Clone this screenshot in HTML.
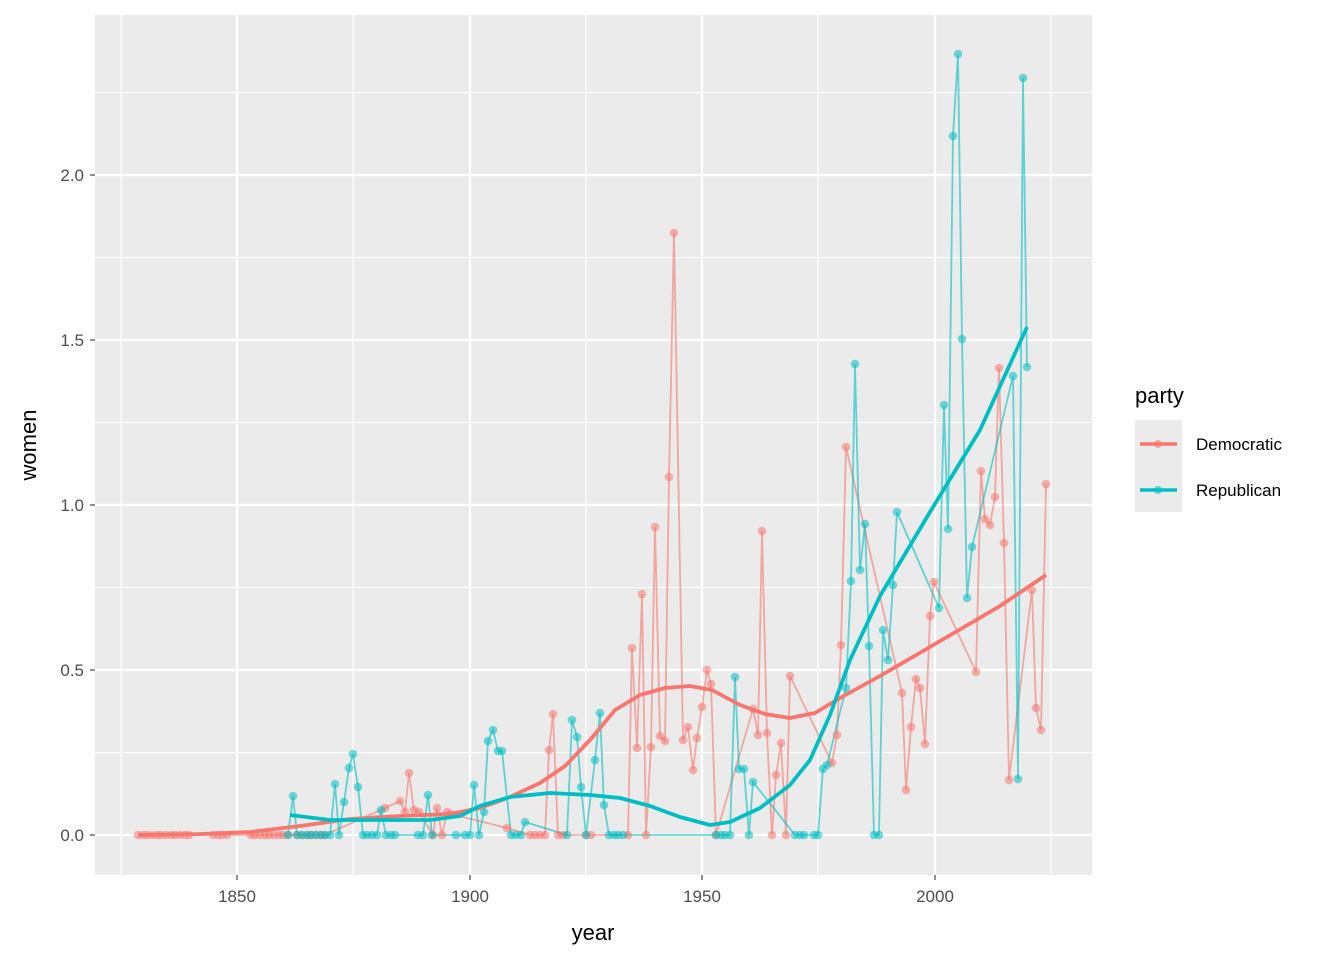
<!DOCTYPE html>
<html><head><meta charset="utf-8"><style>
html,body{margin:0;padding:0;background:#fff;}
svg text{font-family:"Liberation Sans",Arial,sans-serif;}
</style></head><body>
<svg id="s" width="1344" height="960" xmlns="http://www.w3.org/2000/svg">
<rect x="95" y="15" width="997" height="860" fill="#ebebeb"/>
<g stroke="#fff" stroke-width="1.1">
<line x1="121" y1="15" x2="121" y2="875"/><line x1="353" y1="15" x2="353" y2="875"/><line x1="586" y1="15" x2="586" y2="875"/><line x1="818" y1="15" x2="818" y2="875"/><line x1="1051" y1="15" x2="1051" y2="875"/>
<line x1="95" y1="752.5" x2="1092" y2="752.5"/><line x1="95" y1="587.5" x2="1092" y2="587.5"/><line x1="95" y1="422.5" x2="1092" y2="422.5"/><line x1="95" y1="257.5" x2="1092" y2="257.5"/><line x1="95" y1="92.5" x2="1092" y2="92.5"/>
</g>
<g stroke="#fff" stroke-width="2.2">
<line x1="237" y1="15" x2="237" y2="875"/><line x1="470" y1="15" x2="470" y2="875"/><line x1="702" y1="15" x2="702" y2="875"/><line x1="935" y1="15" x2="935" y2="875"/>
<line x1="95" y1="835" x2="1092" y2="835"/><line x1="95" y1="670" x2="1092" y2="670"/><line x1="95" y1="505" x2="1092" y2="505"/><line x1="95" y1="340" x2="1092" y2="340"/><line x1="95" y1="175" x2="1092" y2="175"/>
</g>
<g id="data"></g>
<g font-size="17" fill="#4d4d4d" text-anchor="end">
<text x="84" y="841">0.0</text><text x="84" y="676">0.5</text><text x="84" y="511">1.0</text><text x="84" y="346">1.5</text><text x="84" y="181">2.0</text>
</g>
<g stroke="#333" stroke-width="1.1">
<line x1="90" y1="835" x2="95" y2="835"/><line x1="90" y1="670" x2="95" y2="670"/><line x1="90" y1="505" x2="95" y2="505"/><line x1="90" y1="340" x2="95" y2="340"/><line x1="90" y1="175" x2="95" y2="175"/>
<line x1="237" y1="875" x2="237" y2="880"/><line x1="470" y1="875" x2="470" y2="880"/><line x1="702" y1="875" x2="702" y2="880"/><line x1="935" y1="875" x2="935" y2="880"/>
</g>
<g font-size="17" fill="#4d4d4d" text-anchor="middle">
<text x="237" y="902">1850</text><text x="470" y="902">1900</text><text x="702" y="902">1950</text><text x="935" y="902">2000</text>
</g>
<text x="593" y="940" font-size="22" text-anchor="middle" fill="#000">year</text>
<text transform="translate(36,445) rotate(-90)" font-size="22" text-anchor="middle" fill="#000">women</text>
<text x="1135" y="403" font-size="22" fill="#000">party</text>
<rect x="1135" y="420" width="47" height="92" fill="#ebebeb"/>
<line x1="1140" y1="444" x2="1177" y2="444" stroke="#F8766D" stroke-width="3.5"/>
<circle cx="1158" cy="444" r="4" fill="#F8766D" fill-opacity="0.6"/>
<line x1="1140" y1="490" x2="1177" y2="490" stroke="#00BFC4" stroke-width="3.5"/>
<circle cx="1158" cy="490" r="4" fill="#00BFC4" fill-opacity="0.6"/>
<text x="1196" y="450" font-size="17" fill="#000">Democratic</text>
<text x="1196" y="496" font-size="17" fill="#000">Republican</text>
</svg>
<script>
var D=[[138,835],[143,835],[147,835],[152,835],[157,835],[161,835],[166,835],[171,835],[175,835],[180,835],[185,835],[189,835],[213,835],[218,835],[222,835],[227,835],[251,835],[255,835],[260,835],[265,835],[269,835],[274,835],[279,835],[283,835],[288,835],[297,835],[302,835],[307,835],[311,835],[316,835],[321,835],[325,835],[385,808],[400,801],[405,812],[409,773],[414,810],[419,812],[433,835],[437,808],[442,835],[447,812],[451,814],[507,828],[530,835],[535,835],[540,835],[545,835],[549,750],[553,714],[558,835],[563,835],[586,835],[591,835],[628,835],[632,648],[637,748],[642,594],[646,835],[651,747],[655,527],[660,736],[665,741],[669,477],[674,233],[683,740],[688,727],[693,770],[697,738],[702,707],[707,670],[711,684],[716,835],[753,709],[758,735],[762,531],[767,733],[772,835],[776,775],[781,743],[786,835],[790,676],[832,763],[837,735],[841,645],[846,447],[902,693],[906,790],[911,727],[916,679],[920,688],[925,744],[930,616],[934,582],[976,672],[981,471],[985,519],[990,525],[995,497],[999,368],[1004,543],[1009,780],[1032,590],[1036,708],[1041,730],[1046,484]];
var R=[[288,835],[293,796],[297,835],[302,835],[307,835],[311,835],[316,835],[321,835],[325,835],[330,835],[335,784],[339,835],[344,802],[349,768],[353,754],[358,787],[363,835],[367,835],[372,835],[377,835],[381,810],[386,835],[391,835],[395,835],[418,835],[423,835],[428,795],[432,835],[456,835],[465,835],[470,835],[474,785],[479,835],[484,812],[488,741],[493,730],[498,751],[502,751],[511,835],[516,835],[521,835],[525,822],[567,835],[572,720],[577,737],[581,787],[586,835],[595,760],[600,713],[604,805],[609,835],[614,835],[618,835],[623,835],[716,835],[721,835],[725,835],[730,835],[735,677],[739,769],[744,769],[749,835],[753,782],[795,835],[800,835],[804,835],[814,835],[818,835],[823,769],[827,765],[846,688],[851,581],[855,364],[860,570],[865,524],[869,646],[874,835],[879,835],[883,630],[888,660],[893,585],[897,512],[939,608],[944,405],[948,529],[953,136],[958,54],[962,339],[967,598],[972,547],[1013,376],[1018,779],[1023,78],[1027,367]];
var SD=[[138,835],[200,834],[250,832],[300,826],[350,819],[400,816],[450,814],[480,808],[510,797],[540,783],[565,766],[590,740],[615,710],[640,695],[665,688],[690,686],[712,690],[740,705],[765,714],[790,718],[815,713],[840,698],[880,676],[935,644],[1000,606],[1046,575]];
var SR=[[290,815],[330,820],[380,820],[430,820],[460,816],[480,806],[510,797],[550,793],[590,795],[620,798],[650,806],[680,817],[710,825],[730,822],[760,808],[790,785],[810,760],[830,715],[850,660],[880,596],[930,512],[980,430],[1027,327]];
function pl(a){return a.map(function(p){return p.join(',')}).join(' ');}
var h='';
h+='<polyline points="'+pl(D)+'" fill="none" stroke="#F8766D" stroke-opacity="0.6" stroke-width="1.8"/>';
h+='<polyline points="'+pl(R)+'" fill="none" stroke="#00BFC4" stroke-opacity="0.6" stroke-width="1.8"/>';
D.forEach(function(p){h+='<circle cx="'+p[0]+'" cy="'+p[1]+'" r="4.3" fill="#F8766D" fill-opacity="0.55"/>';});
R.forEach(function(p){h+='<circle cx="'+p[0]+'" cy="'+p[1]+'" r="4.3" fill="#00BFC4" fill-opacity="0.55"/>';});
h+='<polyline points="'+pl(SD)+'" fill="none" stroke="#F8766D" stroke-width="3.8" stroke-linejoin="round"/>';
h+='<polyline points="'+pl(SR)+'" fill="none" stroke="#00BFC4" stroke-width="3.8" stroke-linejoin="round"/>';
document.getElementById('data').innerHTML=h;
</script>
</body></html>
